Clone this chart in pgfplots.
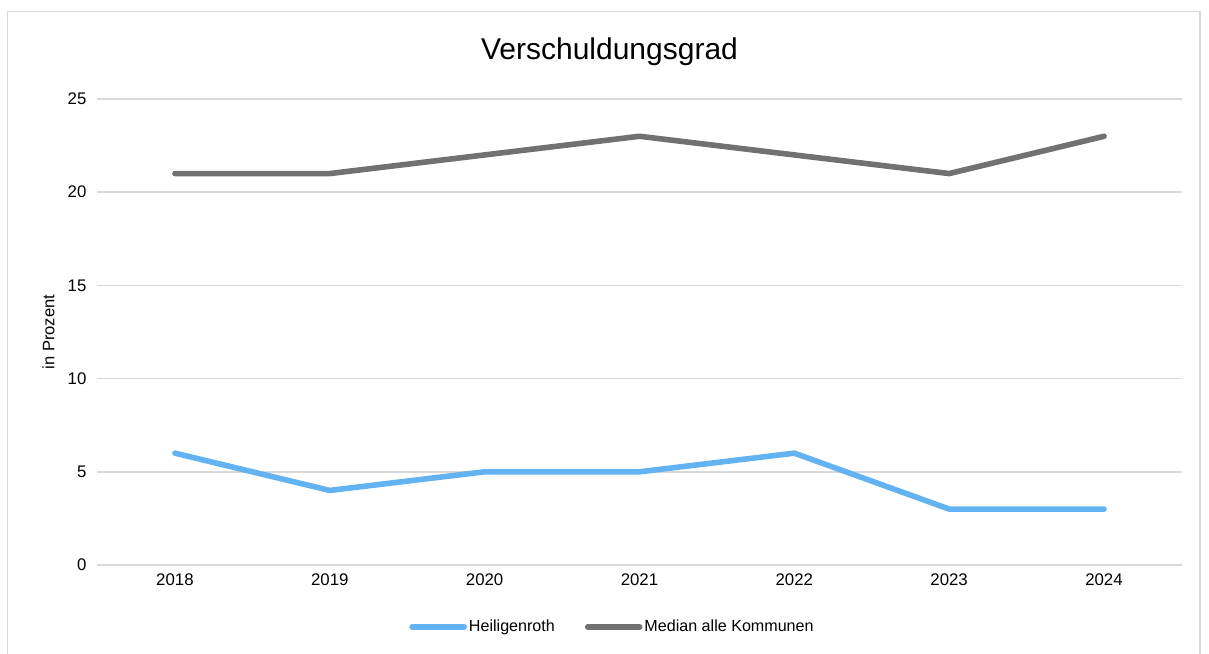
\documentclass[border=0pt]{standalone}
\usepackage{pgfplots}
\pgfplotsset{compat=1.18}
\usepackage{fontspec}
\setmainfont{Liberation Sans}
\definecolor{blueline}{HTML}{63B3F3}
\definecolor{grayline}{HTML}{717171}
\definecolor{gridc}{HTML}{D9D9D9}
\begin{document}
\begin{tikzpicture}
\useasboundingbox (-48.75pt,-44pt) rectangle (555.75pt,282.5pt);
\draw[gridc, line width=0.8pt] (-45pt,-44.5pt) -- (-45pt,276.75pt) -- (551.25pt,276.75pt) -- (551.25pt,-44.5pt);
\begin{axis}[
  at={(0pt,0pt)}, anchor=origin,
  scale only axis, width=542pt, height=233pt,
  xmin=2017.5, xmax=2024.5, ymin=0, ymax=25,
  xtick={2018,...,2024},
  xticklabels={2018,2019,2020,2021,2022,2023,2024},
  ytick={0,5,10,15,20,25},
  axis line style={draw=none},
  axis x line*=bottom,
  tick style={draw=none},
  ymajorgrids, grid style={gridc, line width=0.8pt},
  /pgf/number format/assume math mode=true,
  ticklabel style={font=\fontsize{8.4}{10}\selectfont, text=black},
  yticklabel style={xshift=-2pt},
  xticklabel style={yshift=-1pt},
  ylabel={in Prozent},
  every axis y label/.style={at={(axis description cs:0,0.5)}, xshift=-24.5pt, rotate=90, anchor=center, font=\fontsize{8.3}{10}\selectfont},
  legend style={at={(257.5pt,-31pt)}, anchor=center, draw=none, legend columns=2,
    font=\fontsize{8.05}{10}\selectfont, /tikz/every even column/.append style={column sep=14pt},
    nodes={inner xsep=1pt}},
  legend cell align=left,
  legend image code/.code={\draw[#1, line cap=round] (0pt,0pt) -- (26pt,0pt);},
  clip=false,
]
\addplot[blueline, line width=2.8pt, line cap=round, line join=round] coordinates {
(2018,6) (2019,4) (2020,5) (2021,5) (2022,6) (2023,3) (2024,3)};
\addlegendentry{Heiligenroth}
\addplot[grayline, line width=2.8pt, line cap=round, line join=round] coordinates {
(2018,21) (2019,21) (2020,22) (2021,23) (2022,22) (2023,21) (2024,23)};
\addlegendentry{Median alle Kommunen}
\draw[gridc, line width=0.8pt] (axis cs:2017.5,0) -- (axis cs:2024.5,0);
\end{axis}
\node[font=\fontsize{15}{18}\selectfont] at (256pt,256.5pt) {Verschuldungsgrad};
\end{tikzpicture}
\end{document}
